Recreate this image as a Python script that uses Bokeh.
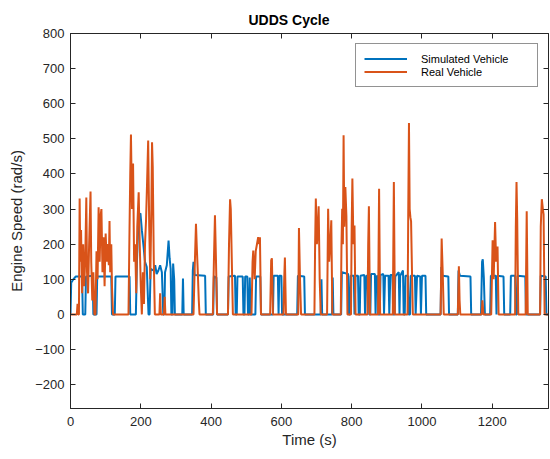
from bokeh.plotting import figure
from bokeh.models import Range1d, LinearAxis, FixedTicker, Legend, LegendItem, CustomLabelingPolicy
from bokeh.embed import file_html
from bokeh.resources import INLINE

# Simulated vehicle engine speed (rad/s) breakpoints
sim_t = [0, 2, 8, 15, 33, 35, 42, 44, 63, 65, 74, 76, 116, 118, 126, 128, 168, 170,
         186, 189, 194, 199, 203, 208, 212, 217, 222, 225, 228, 237, 241, 245, 250, 255,
         260, 264, 267, 269, 274, 279, 282, 285, 287, 290, 292, 295, 297, 318, 320, 322,
         346, 348, 350, 353, 383, 385, 406, 408, 415, 417, 448, 450, 468, 470, 473, 475,
         490, 492, 495, 497, 503, 505, 508, 510, 512, 526, 528, 540, 542, 576, 578, 590,
         592, 594, 600, 602, 645, 647, 665, 667, 712, 714, 716, 744, 746, 748,
         770, 772, 790, 792, 795, 797, 806, 808, 811, 818, 820, 823, 825, 836, 838, 842,
         848, 850, 853, 855, 866, 868, 870, 874, 876, 880, 882, 890, 892, 895, 905, 907,
         910, 916, 918, 922, 924, 934, 936, 938, 946, 948, 951, 953, 960, 962, 966, 968,
         980, 982, 986, 995, 997, 1000, 1010, 1012,
         1053, 1055, 1058, 1075, 1077, 1102, 1104, 1108, 1138, 1140, 1168, 1171, 1173,
         1176, 1179, 1194, 1196, 1210, 1212, 1214, 1232, 1234, 1251, 1253, 1265, 1267,
         1270, 1272, 1294, 1296, 1336, 1338, 1352, 1354, 1360]
sim_v = [0, 90, 100, 108, 108, 0, 0, 108, 110, 0, 0, 108, 108, 0, 0, 108, 108, 0,
         0, 150, 282, 288, 240, 192, 150, 135, 0, 0, 130, 125, 140, 115, 125, 140,
         120, 0, 0, 120, 140, 210, 160, 130, 0, 0, 145, 100, 0, 0, 102, 0,
         0, 125, 150, 112, 110, 0, 0, 108, 105, 0, 0, 108, 110, 0, 0, 108,
         108, 0, 0, 108, 108, 0, 0, 105, 0, 0, 108, 108, 0, 0, 110, 110,
         0, 110, 110, 0, 0, 110, 108, 0, 0, 100, 0, 0, 105, 0,
         0, 120, 115, 0, 0, 110, 110, 0, 110, 110, 0, 0, 110, 112, 0, 110,
         110, 0, 0, 115, 115, 0, 108, 110, 0, 0, 112, 115, 0, 110, 110, 0,
         112, 112, 0, 0, 108, 120, 0, 110, 125, 0, 0, 110, 110, 0, 0, 110,
         110, 0, 110, 108, 0, 110, 110, 0,
         0, 135, 110, 108, 0, 0, 125, 110, 108, 0, 0, 150, 157,
         105, 0, 0, 110, 110, 0, 110, 108, 0, 0, 110, 110, 0,
         0, 110, 108, 0, 0, 110, 108, 0, 0]

# Real vehicle engine speed (rad/s) breakpoints
real_t = [0, 18, 20, 22, 24, 26, 28, 30, 33, 36, 39, 42, 45, 47, 50, 53, 57, 59, 62, 65,
          68, 71, 74, 77, 80, 83, 86, 88, 91, 94, 97, 100, 103, 106, 109, 111, 113, 116,
          118, 121, 165, 168, 170, 172, 175, 178, 181, 184, 187, 190, 194, 197, 200, 203,
          206, 209, 212, 215, 218, 221, 224, 227, 230, 232, 234, 237, 240, 253, 255, 257,
          266, 268, 270, 350, 353, 357, 359, 362, 365, 367, 405, 408, 411, 414, 417, 448,
          451, 454, 456, 459, 462, 515, 518, 520, 524, 527, 530, 534, 537, 539, 542, 568,
          571, 573, 576, 606, 608, 610, 613, 648, 650, 653, 656, 694, 696, 698, 701, 704,
          706, 709, 712, 730, 733, 736, 739, 742, 745, 769, 771, 773, 775, 777, 779, 782,
          785, 788, 798, 800, 802, 805, 808, 811, 845, 847, 849, 852, 875, 878, 881, 917,
          920, 923, 959, 961, 963, 965, 967, 969, 972, 974, 1053, 1056, 1059, 1062, 1102,
          1105, 1107, 1109, 1170, 1172, 1175, 1197, 1201, 1204, 1208, 1211, 1215, 1218,
          1265, 1267, 1269, 1271, 1274, 1295, 1298, 1301, 1336, 1338, 1341, 1344, 1346,
          1349, 1360]
real_v = [0, 0, 30, 0, 0, 330, 150, 240, 60, 200, 80, 160, 333, 120, 60, 200, 350, 150, 40, 120,
          0, 0, 180, 100, 305, 150, 285, 300, 120, 220, 80, 230, 150, 200, 140, 266, 120, 200,
          80, 0, 0, 250, 400, 512, 300, 430, 150, 200, 60, 250, 348, 200, 80, 0,
          120, 30, 200, 270, 380, 495, 250, 100, 300, 490, 420, 150, 0, 0, 60, 0,
          0, 50, 0, 0, 120, 258, 200, 125, 40, 0, 0, 150, 282, 150, 0, 0,
          200, 328, 300, 150, 0, 0, 150, 182, 100, 180, 197, 220, 200, 220, 0, 0,
          154, 160, 0, 0, 100, 162, 0, 0, 246, 100, 0, 0, 200, 330, 200, 250,
          308, 100, 0, 0, 301, 150, 200, 268, 0, 0, 200, 301, 200, 510, 250, 363,
          280, 0, 0, 250, 387, 200, 253, 0, 0, 200, 308, 0, 0, 358, 0, 0,
          377, 0, 0, 300, 545, 300, 277, 265, 100, 0, 0, 216, 120, 0, 0,
          137, 40, 0, 0, 40, 0, 0, 211, 100, 263, 150, 193, 0,
          0, 250, 377, 270, 0, 0, 294, 0, 0, 250, 328, 300, 285,
          0, 0]

x_ticks = [0, 200, 400, 600, 800, 1000, 1200]
y_ticks = [-200, -100, 0, 100, 200, 300, 400, 500, 600, 700, 800]

FONT = "Liberation Sans"
AX = "#262626"

p = figure(width=550, height=459, output_backend="svg", toolbar_location=None,
           x_range=Range1d(0, 1360), y_range=Range1d(-268, 800),
           min_border_left=70, min_border_right=2, min_border_top=33, min_border_bottom=51,
           background_fill_color="white", border_fill_color="white")
p.grid.visible = False
p.outline_line_color = AX
p.outline_line_width = 0.8

p.title.text = "UDDS Cycle"
p.title.align = "left"
p.title.offset = 178
p.title.text_font = FONT
p.title.text_font_size = "14px"
p.title.text_font_style = "bold"
p.title.text_color = "#000000"
p.title.standoff = 11

for ax, ticks in ((p.xaxis[0], x_ticks), (p.yaxis[0], y_ticks)):
    ax.ticker = FixedTicker(ticks=ticks)
    ax.major_tick_in = 5
    ax.major_tick_out = 0
    ax.minor_tick_line_color = None
    ax.axis_line_color = AX
    ax.major_tick_line_color = AX
    ax.major_label_text_font = FONT
    ax.major_label_text_font_size = "13px"
    ax.major_label_text_color = AX
    ax.axis_label_text_font = FONT
    ax.axis_label_text_font_size = "15px"
    ax.axis_label_text_font_style = "normal"
    ax.axis_label_text_color = AX

p.xaxis.axis_label = "Time (s)"
p.yaxis.axis_label = "Engine Speed (rad/s)"
p.xaxis.major_label_standoff = 8
p.xaxis.axis_label_standoff = 2
p.yaxis.major_label_standoff = 6
p.yaxis.axis_label_standoff = 7

hide_labels = CustomLabelingPolicy(code="return new Set()")
for loc, ticks in (("above", x_ticks), ("right", y_ticks)):
    a = LinearAxis(ticker=FixedTicker(ticks=ticks), major_tick_in=5, major_tick_out=0,
                   minor_tick_line_color=None, major_label_text_font_size="0px",
                   major_label_policy=hide_labels,
                   major_label_standoff=0, axis_line_color=AX, major_tick_line_color=AX)
    p.add_layout(a, loc)

r_sim = p.line(sim_t, sim_v, line_color="#0072BD", line_width=2)
r_real = p.line(real_t, real_v, line_color="#D95319", line_width=2)

legend = Legend(items=[LegendItem(label="Simulated Vehicle", renderers=[r_sim]),
                       LegendItem(label="Real Vehicle", renderers=[r_real])],
                location="top_right", margin=10, padding=8, spacing=0,
                glyph_width=43, glyph_height=13, label_height=13, label_width=108,
                label_standoff=14, label_text_font=FONT, label_text_font_size="11px",
                label_text_color="#000000", border_line_color="#262626",
                border_line_width=0.8, background_fill_alpha=1)
p.add_layout(legend)

open("out.html", "w").write(file_html(p, INLINE))
